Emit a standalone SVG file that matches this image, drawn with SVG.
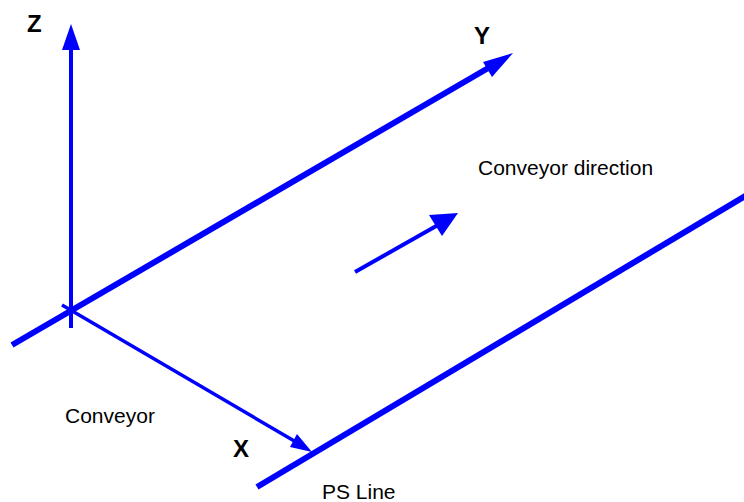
<svg xmlns="http://www.w3.org/2000/svg" width="744" height="502" viewBox="0 0 744 502">
<style>
.ln{stroke:#0000FF;fill:none;stroke-linecap:butt}
.hd{fill:#0000FF;stroke:none}
.lbl{font-family:"Liberation Sans",Arial,sans-serif;font-size:21px;fill:#000}
.ax{font-family:"Liberation Sans",Arial,sans-serif;font-size:24px;font-weight:bold;fill:#000}
</style>
<rect width="744" height="502" fill="#fff"/>
<g id="connectors">
<line class="ln" x1="71" y1="328" x2="71" y2="48" stroke-width="4"/>
<polygon class="hd" points="71,24 62,50 80,50"/>
<line class="ln" x1="12" y1="345" x2="490" y2="67" stroke-width="6"/>
<polygon class="hd" points="513,53 483,62 492,77"/>
<line class="ln" x1="62" y1="305" x2="296" y2="442" stroke-width="3.5"/>
<polygon class="hd" points="312,452 297,434 290,447"/>
<line class="ln" x1="257" y1="487" x2="752" y2="192" stroke-width="6"/>
<line class="ln" x1="355" y1="272" x2="438" y2="225" stroke-width="4"/>
<polygon class="hd" points="458,213 429,215 442,236"/>
</g>
<g id="label-z"><text class="ax" x="27" y="32">Z</text></g>
<g id="label-y"><text class="ax" x="474" y="44">Y</text></g>
<g id="label-x"><text class="ax" x="233" y="457">X</text></g>
<g id="label-conveyor-direction"><text class="lbl" x="478" y="175">Conveyor direction</text></g>
<g id="label-conveyor"><text class="lbl" x="65" y="423">Conveyor</text></g>
<g id="label-ps-line"><text class="lbl" x="322" y="499">PS Line</text></g>
</svg>
